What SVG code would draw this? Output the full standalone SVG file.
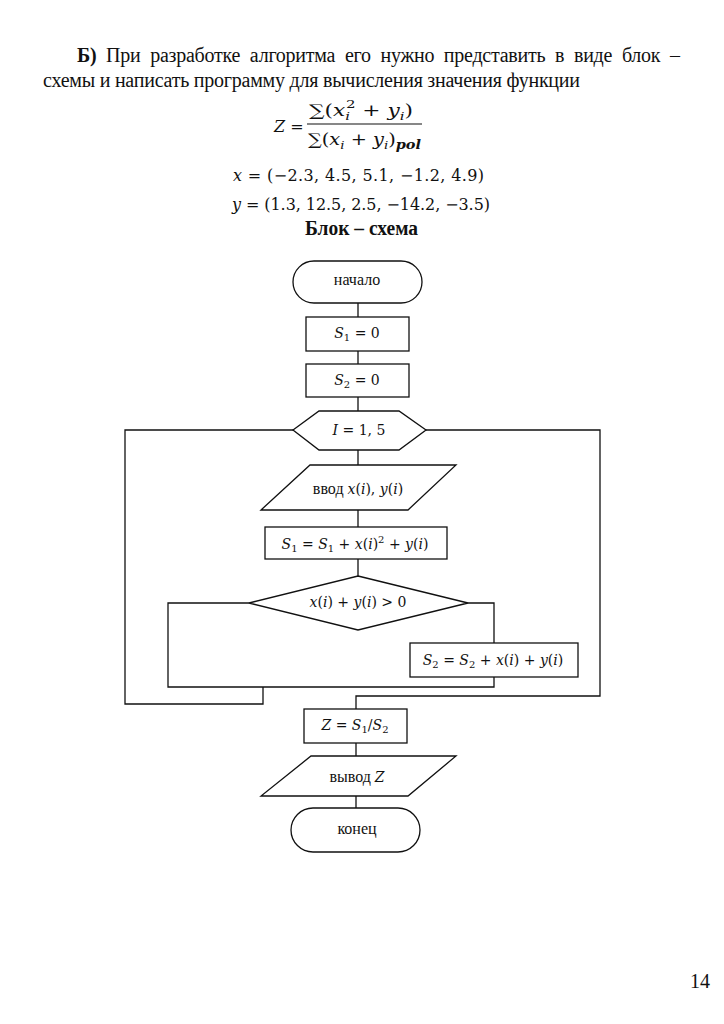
<svg xmlns="http://www.w3.org/2000/svg" width="724" height="1024" viewBox="0 0 724 1024">
<style>
.bg{fill:#ffffff}
.hd{font-family:"Liberation Serif","Times New Roman",serif;font-size:20px;fill:#111}
.mt{font-family:"DejaVu Serif","Liberation Serif",serif;font-size:16px;fill:#111}
.t{font-family:"Liberation Serif","Times New Roman",serif;font-size:16px;fill:#111;text-anchor:middle}
.m{font-family:"DejaVu Serif","Liberation Serif",serif;font-size:14px;fill:#111;text-anchor:middle}
.w{font-family:"Liberation Serif","Times New Roman",serif;font-size:16px;font-style:normal}
.i{font-style:italic}
.sb{font-size:10px}
.sh{fill:#fff;stroke:#111;stroke-width:1.3}
.c{fill:none;stroke:#111;stroke-width:1.3}
</style>
<rect class="bg" x="0" y="0" width="724" height="1024"/>
<g id="header">
<text class="hd" x="77" y="62" word-spacing="5" textLength="603" lengthAdjust="spacing"><tspan font-weight="bold">Б)</tspan> При разработке алгоритма его нужно представить в виде блок –</text>
<text class="hd" x="43" y="87" textLength="537" lengthAdjust="spacing">схемы и написать программу для вычисления значения функции</text>
</g>
<g id="formula">
<text class="mt" x="274" y="132" font-size="17px"><tspan class="i">Z</tspan> =</text>
<text class="mt" x="309" y="116" font-size="17px" textLength="104" lengthAdjust="spacingAndGlyphs">∑(<tspan class="i">x</tspan><tspan class="i" font-size="11px" dy="4">i</tspan><tspan font-size="11px" dx="-3" dy="-12">2</tspan><tspan dy="8"> + </tspan><tspan class="i">y</tspan><tspan class="i" font-size="11px" dy="4">i</tspan><tspan dy="-4">)</tspan></text>
<line x1="307" y1="124" x2="422" y2="124" stroke="#111" stroke-width="1.2"/>
<text class="mt" x="308" y="145" font-size="17px" textLength="113" lengthAdjust="spacingAndGlyphs">∑(<tspan class="i">x</tspan><tspan class="i" font-size="11px" dy="4">i</tspan><tspan dy="-4"> + </tspan><tspan class="i">y</tspan><tspan class="i" font-size="11px" dy="4">i</tspan><tspan dy="-4">)</tspan><tspan class="i" font-weight="bold" font-size="12px" dy="4">pol</tspan></text>
<text class="mt" x="233" y="181" textLength="251" lengthAdjust="spacing"><tspan class="i">x</tspan>  =  (−2.3, 4.5, 5.1, −1.2, 4.9)</text>
<text class="mt" x="232" y="210" textLength="258" lengthAdjust="spacing"><tspan class="i">y</tspan> = (1.3, 12.5, 2.5, −14.2, −3.5)</text>
<text class="hd" x="305" y="235" font-weight="bold" textLength="113" lengthAdjust="spacingAndGlyphs">Блок – схема</text>
</g>
<g id="connectors">
<path class="c" d="M358 303V317M358 351V364M358 397V411M358 450V465M358 510V527M358 559V576"/>
<path class="c" d="M249 603H168V687H494V677"/>
<path class="c" d="M468 603H494V643"/>
<path class="c" d="M263 687V704H125V430H293"/>
<path class="c" d="M426 430H600V696H356V709"/>
<path class="c" d="M356 743V756M356 796V808"/>
</g>
<g id="start">
<rect class="sh" x="293" y="261" width="129" height="42" rx="21"/>
<text class="t" x="357" y="285">начало</text>
</g>
<g id="init_s1">
<rect class="sh" x="306" y="317" width="103" height="34"/>
<text class="m" x="357" y="338"><tspan class="i">S</tspan><tspan class="sb" dy="3">1</tspan><tspan dy="-3"> = 0</tspan></text>
</g>
<g id="init_s2">
<rect class="sh" x="306" y="364" width="103" height="33"/>
<text class="m" x="357" y="385"><tspan class="i">S</tspan><tspan class="sb" dy="3">2</tspan><tspan dy="-3"> = 0</tspan></text>
</g>
<g id="loop">
<polygon class="sh" points="293,430 319,411 399,411 426,430 399,450 319,450"/>
<text class="m" x="359" y="435"><tspan class="i">I</tspan> = 1, 5</text>
</g>
<g id="input">
<polygon class="sh" points="310,465 456,465 408,510 261,510"/>
<text class="m" x="358" y="494"><tspan class="w">ввод </tspan><tspan class="i">x</tspan>(<tspan class="i">i</tspan>), <tspan class="i">y</tspan>(<tspan class="i">i</tspan>)</text>
</g>
<g id="sum1">
<rect class="sh" x="265" y="527" width="182" height="32"/>
<text class="m" x="355" y="549"><tspan class="i">S</tspan><tspan class="sb" dy="3">1</tspan><tspan dy="-3"> = </tspan><tspan class="i">S</tspan><tspan class="sb" dy="3">1</tspan><tspan dy="-3"> + </tspan><tspan class="i">x</tspan>(<tspan class="i">i</tspan>)<tspan class="sb" dy="-6">2</tspan><tspan dy="6"> + </tspan><tspan class="i">y</tspan>(<tspan class="i">i</tspan>)</text>
</g>
<g id="decision">
<polygon class="sh" points="358,576 468,603 358,630 249,603"/>
<text class="m" x="358" y="607"><tspan class="i">x</tspan>(<tspan class="i">i</tspan>) + <tspan class="i">y</tspan>(<tspan class="i">i</tspan>) &gt; 0</text>
</g>
<g id="sum2">
<rect class="sh" x="410" y="643" width="168" height="34"/>
<text class="m" x="493" y="665"><tspan class="i">S</tspan><tspan class="sb" dy="3">2</tspan><tspan dy="-3"> = </tspan><tspan class="i">S</tspan><tspan class="sb" dy="3">2</tspan><tspan dy="-3"> + </tspan><tspan class="i">x</tspan>(<tspan class="i">i</tspan>) + <tspan class="i">y</tspan>(<tspan class="i">i</tspan>)</text>
</g>
<g id="result">
<rect class="sh" x="304" y="709" width="103" height="34"/>
<text class="m" x="355" y="730"><tspan class="i">Z</tspan> = <tspan class="i">S</tspan><tspan class="sb" dy="3">1</tspan><tspan dy="-3">/</tspan><tspan class="i">S</tspan><tspan class="sb" dy="3">2</tspan></text>
</g>
<g id="output">
<polygon class="sh" points="311,756 456,756 408,796 261,796"/>
<text class="m" x="357" y="782"><tspan class="w">вывод </tspan><tspan class="i">Z</tspan></text>
</g>
<g id="end">
<rect class="sh" x="291" y="808" width="129" height="44" rx="22"/>
<text class="t" x="357" y="834">конец</text>
</g>
<g id="page">
<text class="hd" x="710" y="988" font-size="14px" text-anchor="end">14</text>
</g>
</svg>
